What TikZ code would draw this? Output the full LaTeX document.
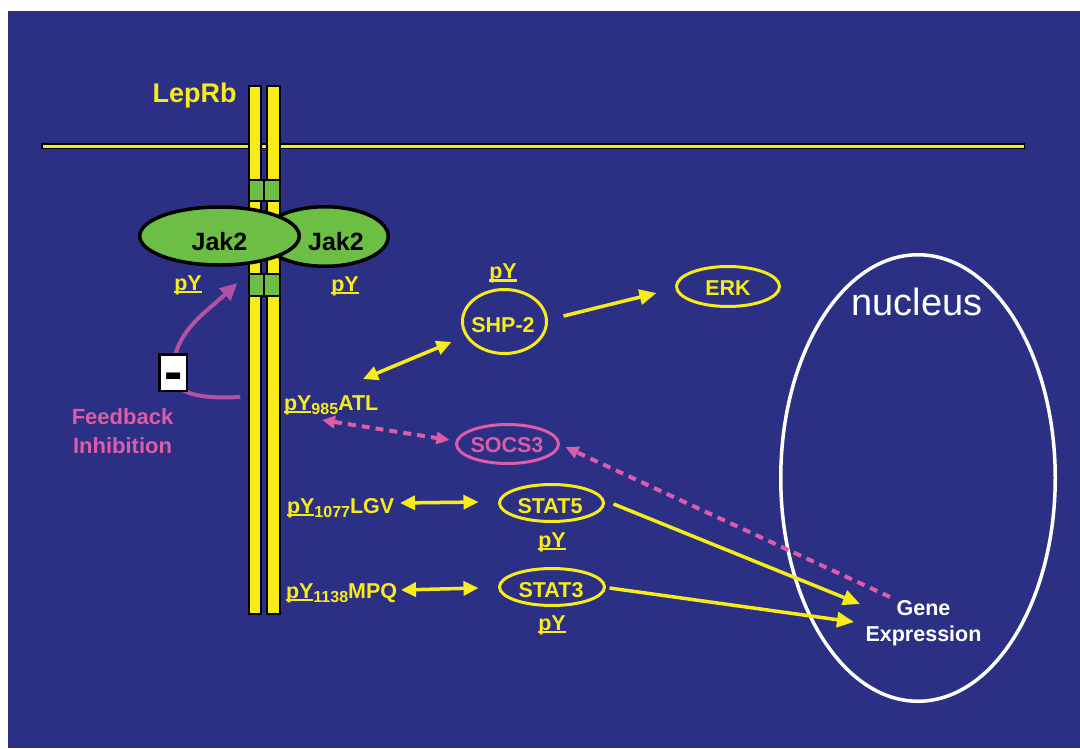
\documentclass[tikz,border=0pt]{standalone}
\usepackage{fontspec}
\setmainfont{Liberation Sans}
\usetikzlibrary{arrows.meta,shapes.geometric}
\definecolor{bgblue}{RGB}{43,48,133}
\definecolor{ylw}{RGB}{248,236,24}
\definecolor{grn}{RGB}{108,190,69}
\definecolor{pnk}{RGB}{220,92,168}
\definecolor{prp}{RGB}{178,82,162}
\newcommand\fsz[1]{\fontsize{#1}{#1}\selectfont}
\newcommand\pyul[1]{\setbox0\hbox{#1}\rlap{\rule[-0.14em]{\wd0}{0.1em}}\box0}
\newcommand\sbs[1]{\raisebox{-4pt}{\fsz{16}#1}}
\begin{document}
\begin{tikzpicture}[x=1pt,y=-1pt,
  txt/.style={inner sep=0,outer sep=0,anchor=base,font=\bfseries\fsz{21.5}},
  ytxt/.style={txt,text=ylw},
  oval/.style={ellipse,draw=ylw,line width=3pt,inner sep=0,outer sep=0},
  bar/.style={rectangle,draw=black,fill=ylw,line width=2pt,inner sep=0,outer sep=0},
  jak/.style={ellipse,draw=black,fill=grn,line width=3.5pt,inner sep=0,outer sep=0},
  gbox/.style={draw=black,fill=grn,line width=2pt},
  arr/.style={draw=ylw,line width=3.5pt,-{Triangle[length=17pt,width=15pt]}},
  darr/.style={draw=ylw,line width=3.5pt,{Triangle[length=15pt,width=14pt]}-{Triangle[length=15pt,width=14pt]}},
  pdash/.style={draw=pnk,line width=4pt,dash pattern=on 8pt off 6pt},
  ptip/.style={-{Triangle[length=13pt,width=12pt]}},
  pdtip/.style={{Triangle[length=13pt,width=12pt]}-{Triangle[length=13pt,width=12pt]}}]
\useasboundingbox (0,0) rectangle (1080,748);
\fill[bgblue] (8,11) rectangle (1080,748);
% membrane
\draw[line width=6pt] (41,146) -- (1025,146);
\draw[ylw,line width=3pt] (42.5,146) -- (1023.5,146);
% nucleus
\node[ellipse,draw=white,line width=3.5pt,inner sep=0,outer sep=0,minimum width=274.5,minimum height=446.5] (nuc) at (918,478) {};
\node[inner sep=0,anchor=base,text=white,font=\fsz{38}] (nuctxt) at (917,315) {nucleus};
% receptor
\node[bar,minimum width=11.5,minimum height=528] (barL) at (255,350) {};
\node[bar,minimum width=12.5,minimum height=528] (barR) at (273.3,350) {};
\draw[gbox] (249.3,180) rectangle (264,201);
\draw[gbox] (264,180) rectangle (279.7,201);
\draw[gbox] (249.3,274) rectangle (264,296);
\draw[gbox] (264,274) rectangle (279.7,296);
\node[ytxt,font=\bfseries\fsz{27}] (lep) at (194.5,102) {LepRb};
% Jak2
\node[jak,minimum width=126.5,minimum height=59.5] (jakR) at (325,236.5) {};
\node[jak,minimum width=159.5,minimum height=58] (jakL) at (219.5,236) {};
\node[txt,font=\bfseries\fsz{25}] (jakLt) at (219.5,250) {Jak2};
\node[txt,font=\bfseries\fsz{25}] (jakRt) at (336,250) {Jak2};
\node[ytxt] (pyL) at (188,290) {\pyul{pY}};
\node[ytxt] (pyR) at (345,291) {\pyul{pY}};
% feedback
\coordinate (fbc) at (173,372.5);
\draw[prp,line width=4pt,-{Triangle[length=17pt,width=16pt]}] ([shift={(-9,47)}]barL.west) .. controls +(-40,2) and +(0,22) .. (fbc) .. controls +(0,-40) and +(-32,30) .. ([shift={(-12,-67)}]barL.west);
\node[draw=black,fill=white,line width=2.5pt,inner sep=0,minimum width=27.5,minimum height=36.5] (fbbox) at (fbc) {};
\node[inner sep=0,anchor=base,font=\bfseries\fsz{55}] (minus) at (174,390) {-};
\node[txt,text=pnk,align=center,font=\bfseries\fontsize{22}{29}\selectfont] (fbtxt) at (122.5,453) {Feedback\\Inhibition};
% phosphosites
\node[ytxt,anchor=base west] (p985) at (284,410) {\pyul{pY}\sbs{985}ATL};
\node[ytxt,anchor=base west] (p1077) at (287,513) {\pyul{pY}\sbs{1077}LGV};
\node[ytxt,anchor=base west] (p1138) at (286,598) {\pyul{pY}\sbs{1138}MPQ};
% partners
\node[oval,minimum width=84,minimum height=64] (shp2) at (504.5,321.5) {};
\node[ytxt] (shp2t) at (503,332) {SHP-2};
\node[ytxt] (pyshp) at (503,278.5) {\pyul{pY}};
\node[oval,minimum width=103,minimum height=40] (erk) at (728,286.5) {};
\node[ytxt] (erkt) at (728,295.5) {ERK};
\node[oval,draw=pnk,minimum width=102,minimum height=39] (socs3) at (507.5,444) {};
\node[txt,text=pnk] (socs3t) at (507,452.5) {SOCS3};
\node[oval,minimum width=104,minimum height=37] (stat5) at (551.5,503) {};
\node[ytxt] (stat5t) at (550,513) {STAT5};
\node[ytxt] (py5) at (552,547) {\pyul{pY}};
\node[oval,minimum width=105,minimum height=37] (stat3) at (552,587) {};
\node[ytxt] (stat3t) at (551,597.5) {STAT3};
\node[ytxt] (py3) at (552,630) {\pyul{pY}};
\node[txt,text=white,align=center,font=\bfseries\fontsize{21.5}{26.7}\selectfont] (gene) at (923.5,641.7) {Gene\\Expression};
% connectors
\draw[darr] ([shift={(79,-31)}]p985.base west) -- ([shift={(-11,20.5)}]shp2.west);
\draw[arr] ([shift={(17,-5.5)}]shp2.east) -- ([shift={(-20,6.5)}]erk.west);
\draw[pdash,pdtip] ([shift={(38,10)}]p985.base west) -- ([shift={(-7,-4)}]socs3.west);
\draw[pdash,ptip] ([shift={(-33.5,-44.7)}]gene.base) -- ([shift={(7,3)}]socs3.east);
\draw[darr] ([shift={(113,-10)}]p1077.base west) -- ([shift={(-21,-1)}]stat5.west);
\draw[darr] ([shift={(115,-8)}]p1138.base west) -- ([shift={(-21,1)}]stat3.west);
\draw[arr] ([shift={(10,1)}]stat5.east) -- ([shift={(-63.5,-37.7)}]gene.base);
\draw[arr] ([shift={(5,1)}]stat3.east) -- ([shift={(-69.5,-19.7)}]gene.base);
\end{tikzpicture}
\end{document}
